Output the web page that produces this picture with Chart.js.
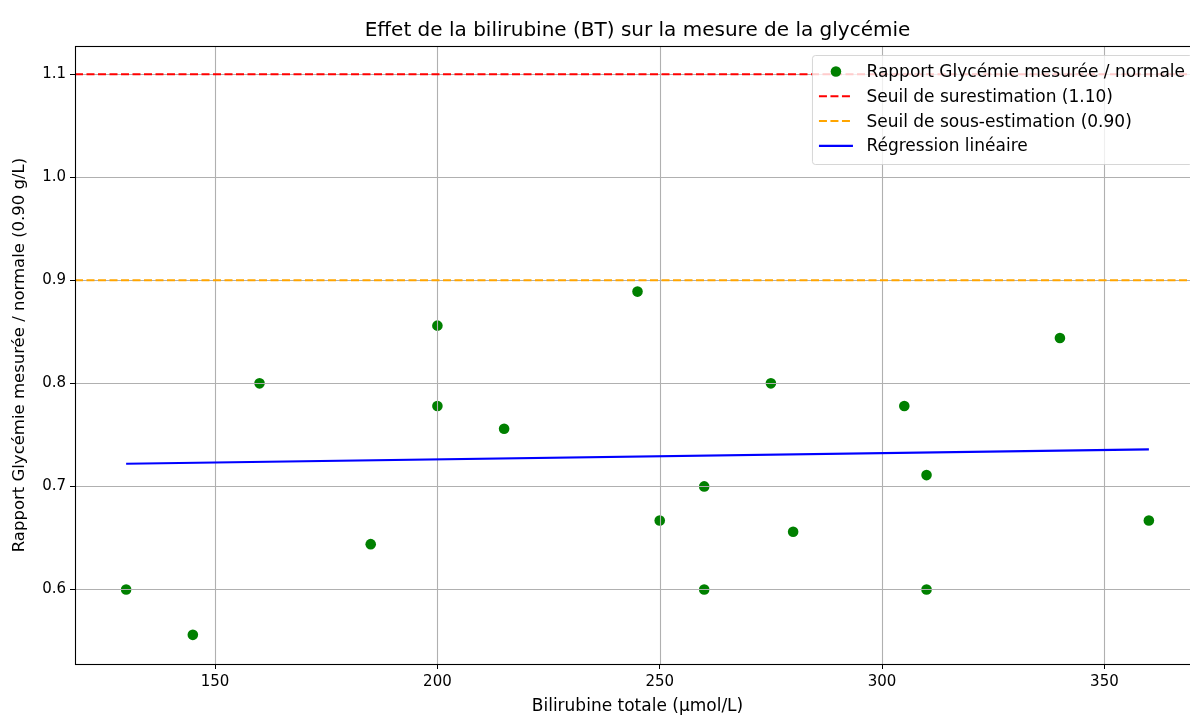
<!DOCTYPE html>
<html lang="fr">
<head>
<meta charset="utf-8">
<title>Bilirubine et glycémie</title>
<script src="https://cdn.jsdelivr.net/npm/chart.js@4"></script>
<style>
  html, body { margin: 0; padding: 0; background: #fff; overflow: hidden; }
  canvas { display: block; }
</style>
</head>
<body>
<canvas id="glyChart" width="1275" height="715"></canvas>
<script>
// bilirubine totale (µmol/L) et rapport glycémie mesurée / normale (0.90 g/L)
const bilirubine = [130, 145, 160, 185, 200, 200, 215, 245, 250, 260, 260, 275, 280, 305, 310, 310, 340, 360];
const rapport = [0.600, 0.556, 0.800, 0.644, 0.856, 0.778, 0.756, 0.889, 0.667, 0.700, 0.600, 0.800, 0.656, 0.778, 0.711, 0.600, 0.844, 0.667];

const seuilSur = 1.10;
const seuilSous = 0.90;

// extrémités de la droite de régression
const regX = [130, 360];
const regY = [0.722, 0.736];

const xTicks = [150, 200, 250, 300, 350];
const yTicks = [0.6, 0.7, 0.8, 0.9, 1.0, 1.1];
const xMin = 118.5, xMax = 371.5;
const yMin = 0.5277, yMax = 1.1273;

const titre = 'Effet de la bilirubine (BT) sur la mesure de la glycémie';

const FONT = "'DejaVu Sans', sans-serif";

const points = bilirubine.map((b, i) => ({ x: b, y: rapport[i] }));

// titre centré sur la zone du graphique
const titlePlugin = {
  id: 'titreAxes',
  afterDraw(chart) {
    const { ctx, chartArea: a } = chart;
    ctx.save();
    ctx.font = '20px ' + FONT;
    ctx.fillStyle = '#000';
    ctx.textAlign = 'center';
    ctx.textBaseline = 'alphabetic';
    ctx.fillText(titre, (a.left + a.right) / 2, a.top - 10.5);
    ctx.restore();
  }
};

// grille dessinée au-dessus des points, sous les lignes
const gridPlugin = {
  id: 'gridOver',
  afterDatasetDraw(chart, args) {
    if (args.index !== 0) return;
    const { ctx, chartArea: a, scales } = chart;
    ctx.save();
    ctx.strokeStyle = '#b0b0b0';
    ctx.lineWidth = 1.1;
    xTicks.forEach(v => {
      const px = Math.round(scales.x.getPixelForValue(v)) + 0.5;
      ctx.beginPath(); ctx.moveTo(px, a.top); ctx.lineTo(px, a.bottom); ctx.stroke();
    });
    yTicks.forEach(v => {
      const py = Math.round(scales.y.getPixelForValue(v)) + 0.5;
      ctx.beginPath(); ctx.moveTo(a.left, py); ctx.lineTo(a.right, py); ctx.stroke();
    });
    ctx.restore();
  },
  afterDatasetsDraw(chart) {
    const { ctx, chartArea: a } = chart;
    ctx.save();
    ctx.strokeStyle = '#000';
    ctx.lineWidth = 1.1;
    ctx.strokeRect(a.left + 0.5, a.top + 0.5, a.right - a.left, a.bottom - a.top);
    ctx.restore();
  }
};

// légende en haut à droite, à l'intérieur du cadre
const legendPlugin = {
  id: 'legendBox',
  afterDraw(chart) {
    const { ctx, chartArea: a } = chart;
    const ds = chart.data.datasets;
    ctx.save();
    ctx.font = '17px ' + FONT;
    const textW = Math.max(...ds.map(d => ctx.measureText(d.label).width));
    const pad = 7, handle = 34, gap = 13.5, rowH = 24.8;
    const right = a.right - 8;
    const top = a.top + 9;
    const w = pad + handle + gap + textW + pad;
    const h = 109;
    const left = right - w;

    ctx.fillStyle = 'rgba(255,255,255,0.8)';
    ctx.strokeStyle = 'rgba(204,204,204,0.8)';
    ctx.lineWidth = 1;
    ctx.beginPath();
    ctx.roundRect(left + 0.5, top + 0.5, w, h, 3);
    ctx.fill();
    ctx.stroke();

    ds.forEach((d, i) => {
      const cy = top + 16.5 + i * rowH;
      const hx = left + pad;
      if (d.showLine) {
        ctx.strokeStyle = d.borderColor;
        ctx.lineWidth = d.borderWidth;
        ctx.setLineDash(d.borderDash || []);
        ctx.beginPath(); ctx.moveTo(hx, cy); ctx.lineTo(hx + handle, cy); ctx.stroke();
        ctx.setLineDash([]);
      } else {
        ctx.fillStyle = d.backgroundColor;
        ctx.beginPath(); ctx.arc(hx + handle / 2, cy, d.pointRadius, 0, Math.PI * 2); ctx.fill();
      }
      ctx.fillStyle = '#000';
      ctx.textBaseline = 'middle';
      ctx.fillText(d.label, hx + handle + gap, cy + 1);
    });
    ctx.restore();
  }
};

const ctx = document.getElementById('glyChart').getContext('2d');

const glyChart = new Chart(ctx, {
  type: 'scatter',
  data: {
    datasets: [{
      label: 'Rapport Glycémie mesurée / normale',
      data: points,
      backgroundColor: '#008000',
      borderWidth: 0,
      pointRadius: 5.3,
      order: 10
    }, {
      label: 'Seuil de surestimation (1.10)',
      data: [{ x: xMin, y: seuilSur }, { x: xMax, y: seuilSur }],
      showLine: true,
      borderColor: '#ff0000',
      borderDash: [8, 3.5],
      borderWidth: 2,
      pointRadius: 0,
      order: 3
    }, {
      label: 'Seuil de sous-estimation (0.90)',
      data: [{ x: xMin, y: seuilSous }, { x: xMax, y: seuilSous }],
      showLine: true,
      borderColor: '#ffa500',
      borderDash: [8, 3.5],
      borderWidth: 2,
      pointRadius: 0,
      order: 2
    }, {
      label: 'Régression linéaire',
      data: regX.map((x, i) => ({ x: x, y: regY[i] })),
      showLine: true,
      borderColor: '#0000ff',
      borderWidth: 2.2,
      pointRadius: 0,
      order: 1
    }]
  },
  options: {
    responsive: false,
    animation: false,
    devicePixelRatio: 1,
    layout: { padding: { left: 0, right: 75, top: 46, bottom: 0 } },
    plugins: {
      legend: { display: false },
      tooltip: { enabled: false },
      title: { display: false }
    },
    scales: {
      x: {
        type: 'linear',
        min: xMin,
        max: xMax,
        afterBuildTicks: s => { s.ticks = xTicks.map(v => ({ value: v })); },
        afterFit: s => { s.height = 51; },
        border: { display: false },
        grid: { drawOnChartArea: false, drawTicks: true, tickLength: 5, tickColor: '#000' },
        ticks: {
          color: '#000',
          padding: 4,
          maxRotation: 0,
          font: { family: FONT, size: 15 },
          callback: v => String(v)
        },
        title: {
          display: true,
          text: 'Bilirubine totale (µmol/L)',
          color: '#000',
          font: { family: FONT, size: 17 },
          padding: { top: 0, bottom: -2 }
        }
      },
      y: {
        type: 'linear',
        min: yMin,
        max: yMax,
        afterBuildTicks: s => { s.ticks = yTicks.map(v => ({ value: v })); },
        afterFit: s => { s.width = 75; },
        border: { display: false },
        grid: { drawOnChartArea: false, drawTicks: true, tickLength: 5, tickColor: '#000' },
        ticks: {
          color: '#000',
          padding: 4,
          font: { family: FONT, size: 15 },
          callback: v => v.toFixed(1)
        },
        title: {
          display: true,
          text: 'Rapport Glycémie mesurée / normale (0.90 g/L)',
          color: '#000',
          font: { family: FONT, size: 16.5 },
          padding: { top: 10, bottom: 0 }
        }
      }
    }
  },
  plugins: [gridPlugin, legendPlugin, titlePlugin]
});
</script>
</body>
</html>
